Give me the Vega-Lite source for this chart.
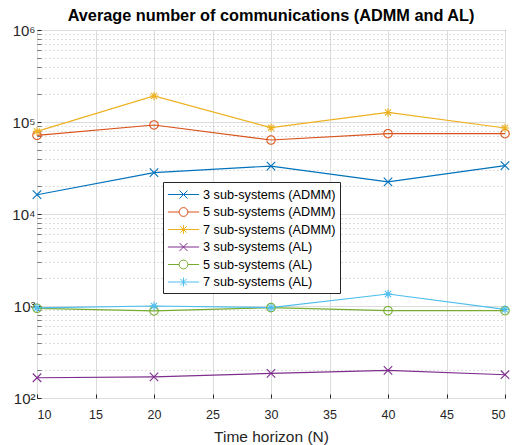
{
  "$schema": "https://vega.github.io/schema/vega-lite/v6.json",
  "width": 468,
  "height": 368,
  "autosize": {"type": "none"},
  "padding": {"left": 37, "top": 30, "right": 9, "bottom": 47},
  "background": "white",
  "config": {
    "font": "Liberation Sans",
    "view": {"stroke": "#262626", "strokeWidth": 1},
    "axis": {"labelFont": "Liberation Sans", "titleFont": "Liberation Sans"}
  },
  "title": {
    "text": "Average number of communications (ADMM and AL)",
    "font": "Liberation Sans",
    "fontSize": 16.3,
    "fontWeight": "bold",
    "color": "#000000",
    "baseline": "alphabetic",
    "offset": 6,
    "dy": 20
  },
  "data": {
    "values": [
      {"N": 10, "series": "3 sub-systems (ADMM)", "value": 16200},
      {"N": 20, "series": "3 sub-systems (ADMM)", "value": 28100},
      {"N": 30, "series": "3 sub-systems (ADMM)", "value": 33200},
      {"N": 40, "series": "3 sub-systems (ADMM)", "value": 22400},
      {"N": 50, "series": "3 sub-systems (ADMM)", "value": 33500},
      {"N": 10, "series": "5 sub-systems (ADMM)", "value": 71700},
      {"N": 20, "series": "5 sub-systems (ADMM)", "value": 92800},
      {"N": 30, "series": "5 sub-systems (ADMM)", "value": 63700},
      {"N": 40, "series": "5 sub-systems (ADMM)", "value": 74600},
      {"N": 50, "series": "5 sub-systems (ADMM)", "value": 74600},
      {"N": 10, "series": "7 sub-systems (ADMM)", "value": 79000},
      {"N": 20, "series": "7 sub-systems (ADMM)", "value": 192000},
      {"N": 30, "series": "7 sub-systems (ADMM)", "value": 86700},
      {"N": 40, "series": "7 sub-systems (ADMM)", "value": 127000},
      {"N": 50, "series": "7 sub-systems (ADMM)", "value": 86000},
      {"N": 10, "series": "3 sub-systems (AL)", "value": 166},
      {"N": 20, "series": "3 sub-systems (AL)", "value": 170},
      {"N": 30, "series": "3 sub-systems (AL)", "value": 185},
      {"N": 40, "series": "3 sub-systems (AL)", "value": 200},
      {"N": 50, "series": "3 sub-systems (AL)", "value": 179},
      {"N": 10, "series": "5 sub-systems (AL)", "value": 944},
      {"N": 20, "series": "5 sub-systems (AL)", "value": 883},
      {"N": 30, "series": "5 sub-systems (AL)", "value": 960},
      {"N": 40, "series": "5 sub-systems (AL)", "value": 889},
      {"N": 50, "series": "5 sub-systems (AL)", "value": 889},
      {"N": 10, "series": "7 sub-systems (AL)", "value": 955},
      {"N": 20, "series": "7 sub-systems (AL)", "value": 1000},
      {"N": 30, "series": "7 sub-systems (AL)", "value": 960},
      {"N": 40, "series": "7 sub-systems (AL)", "value": 1350},
      {"N": 50, "series": "7 sub-systems (AL)", "value": 920}
    ]
  },
  "encoding": {
    "x": {
      "field": "N",
      "type": "quantitative",
      "scale": {"domain": [10, 50], "nice": false, "zero": false},
      "axis": {
        "title": "Time horizon (N)",
        "values": [10, 15, 20, 25, 30, 35, 40, 45, 50],
        "labelFontSize": 12.5,
        "labelColor": "#262626",
        "labelPadding": 14.5,
        "titleFontSize": 15.5,
        "titleFontWeight": "normal",
        "titleColor": "#262626",
        "titlePadding": 8,
        "tickSize": -4,
        "tickColor": "#262626",
        "domain": false,
        "grid": true,
        "gridColor": "#dcdcdc",
        "gridWidth": 1
      }
    },
    "y": {
      "field": "value",
      "type": "quantitative",
      "scale": {"type": "log", "domain": [100, 1000000], "nice": false},
      "axis": {
        "title": null,
        "values": [100, 200, 300, 400, 500, 600, 700, 800, 900, 1000, 2000, 3000, 4000, 5000, 6000, 7000, 8000, 9000, 10000, 20000, 30000, 40000, 50000, 60000, 70000, 80000, 90000, 100000, 200000, 300000, 400000, 500000, 600000, 700000, 800000, 900000, 1000000],
        "labelExpr": "datum.value == 100 ? '10²' : datum.value == 1000 ? '10³' : datum.value == 10000 ? '10⁴' : datum.value == 100000 ? '10⁵' : datum.value == 1000000 ? '10⁶' : ''",
        "labelOverlap": false,
        "labelFontSize": 15,
        "labelColor": "#262626",
        "labelPadding": 6,
        "domain": false,
        "tickColor": "#262626",
        "tickSize": -4,
        "tickOpacity": {"condition": {"test": "indexof([100,1000,10000,100000,1000000], datum.value) >= 0", "value": 1}, "value": 0.6},
        "grid": true,
        "gridColor": {"condition": {"test": "indexof([100,1000,10000,100000,1000000], datum.value) >= 0", "value": "#dcdcdc"}, "value": "#bdbdbd"},
        "gridDash": {"condition": {"test": "indexof([100,1000,10000,100000,1000000], datum.value) >= 0", "value": []}, "value": [1, 3]},
        "gridWidth": 1
      }
    },
    "color": {
      "field": "series",
      "type": "nominal",
      "scale": {
        "domain": ["3 sub-systems (ADMM)", "5 sub-systems (ADMM)", "7 sub-systems (ADMM)", "3 sub-systems (AL)", "5 sub-systems (AL)", "7 sub-systems (AL)"],
        "range": ["#0072BD", "#D95319", "#EDB120", "#7E2F8E", "#77AC30", "#4DBEEE"]
      },
      "legend": {
        "title": null,
        "orient": "none",
        "legendX": 126,
        "legendY": 152,
        "padding": 4,
        "symbolOffset": 8,
        "labelOffset": 11,
        "rowPadding": 1.5,
        "labelFontSize": 12.7,
        "labelFont": "Liberation Sans",
        "labelColor": "#000000",
        "strokeColor": "#262626",
        "fillColor": "#ffffff",
        "symbolStrokeWidth": 1,
        "symbolOpacity": 1,
        "symbolFillColor": "transparent",
        "symbolSize": 256
      }
    }
  },
  "layer": [
    {
      "mark": {"type": "line", "strokeWidth": 1.2},
      "encoding": {"detail": {"field": "series"}}
    },
    {
      "mark": {"type": "point", "filled": false, "size": 72, "strokeWidth": 1.1, "opacity": 1},
      "encoding": {
        "shape": {
          "condition": [
            {"test": "indexof(datum.series, '3 sub') == 0", "value": "M-1,-1L1,1M-1,1L1,-1"},
            {"test": "indexof(datum.series, '5 sub') == 0", "value": "circle"}
          ],
          "value": "M-1,0L1,0M0,-1L0,1M-0.72,-0.72L0.72,0.72M-0.72,0.72L0.72,-0.72"
        }
      }
    },
    {
      "mark": {"type": "point", "filled": false, "size": 256, "opacity": 0},
      "encoding": {
        "shape": {
          "field": "series",
          "type": "nominal",
          "scale": {
            "domain": ["3 sub-systems (ADMM)", "5 sub-systems (ADMM)", "7 sub-systems (ADMM)", "3 sub-systems (AL)", "5 sub-systems (AL)", "7 sub-systems (AL)"],
            "range": [
              "M-1.95,0L1.95,0M-0.5,-0.5L0.5,0.5M-0.5,0.5L0.5,-0.5",
              "M-1.95,0L-0.55,0M0.55,0L1.95,0M0.55,0A0.55,0.55 0 1,1 -0.55,0A0.55,0.55 0 1,1 0.55,0",
              "M-1.95,0L1.95,0M0,-0.55L0,0.55M-0.4,-0.4L0.4,0.4M-0.4,0.4L0.4,-0.4",
              "M-1.95,0L1.95,0M-0.5,-0.5L0.5,0.5M-0.5,0.5L0.5,-0.5",
              "M-1.95,0L-0.55,0M0.55,0L1.95,0M0.55,0A0.55,0.55 0 1,1 -0.55,0A0.55,0.55 0 1,1 0.55,0",
              "M-1.95,0L1.95,0M0,-0.55L0,0.55M-0.4,-0.4L0.4,0.4M-0.4,0.4L0.4,-0.4"
            ]
          },
          "legend": {
            "title": null,
            "orient": "none",
            "legendX": 126,
            "legendY": 152,
            "padding": 4,
            "symbolOffset": 8,
            "labelOffset": 11,
            "rowPadding": 1.5,
            "labelFontSize": 12.7,
            "labelFont": "Liberation Sans",
            "labelColor": "#000000",
            "strokeColor": "#262626",
            "fillColor": "#ffffff",
            "symbolStrokeWidth": 1,
            "symbolOpacity": 1,
            "symbolFillColor": "transparent",
            "symbolSize": 256
          }
        }
      }
    }
  ]
}
